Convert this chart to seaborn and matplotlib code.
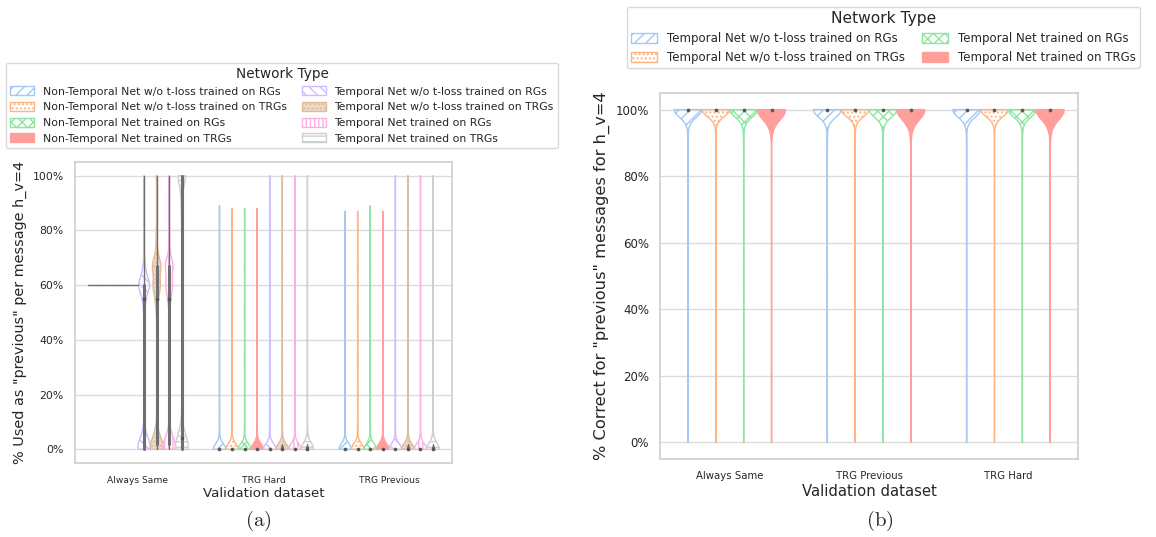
import numpy as np
import pandas as pd
import matplotlib
matplotlib.use("Agg")
import matplotlib.pyplot as plt
import seaborn as sns
from matplotlib.patches import Patch
from matplotlib.ticker import PercentFormatter
from matplotlib.collections import PolyCollection

sns.set_theme(style="whitegrid")
plt.rcParams["font.family"] = ["DejaVu Sans"]
plt.rcParams["mathtext.fontset"] = "cm"

# ---------------- Panel (a): messages used as "previous" ----------------
datasets_a = ["Always Same", "TRG Hard", "TRG Previous"]
networks_a = [
    "Non-Temporal Net w/o t-loss trained on RGs",
    "Non-Temporal Net w/o t-loss trained on TRGs",
    "Non-Temporal Net trained on RGs",
    "Non-Temporal Net trained on TRGs",
    "Temporal Net w/o t-loss trained on RGs",
    "Temporal Net w/o t-loss trained on TRGs",
    "Temporal Net trained on RGs",
    "Temporal Net trained on TRGs",
]

# value levels (%) and number of messages at each level, one row per network
levels_same = [0, 2, 4, 6, 8, 50, 55, 60, 65, 67, 70, 75, 80, 90, 100]
counts_same = [
    [0, 0, 0, 0, 0, 0, 0, 1000, 0, 0, 0, 0, 0, 0, 0],
    [0, 0, 0, 0, 0, 0, 0, 1000, 0, 0, 0, 0, 0, 0, 0],
    [0, 0, 0, 0, 0, 0, 0, 1000, 0, 0, 0, 0, 0, 0, 0],
    [0, 0, 0, 0, 0, 0, 0, 1000, 0, 0, 0, 0, 0, 0, 0],
    [1000, 450, 250, 120, 40, 60, 300, 1200, 300, 0, 60, 40, 30, 20, 60],
    [900, 400, 250, 120, 40, 50, 250, 700, 150, 700, 150, 100, 80, 40, 80],
    [950, 450, 250, 100, 30, 60, 250, 700, 100, 750, 100, 60, 40, 20, 60],
    [2000, 800, 400, 250, 150, 20, 0, 20, 0, 0, 20, 0, 60, 300, 1800],
]

levels_trg = [0, 1, 2, 3, 5, 8, 20, 33, 50, 67, 87, 88, 89, 100]
counts_hard = [
    [850, 60, 40, 25, 15, 20, 20, 20, 20, 20, 0, 0, 20, 0],
    [850, 60, 40, 25, 15, 20, 20, 20, 26, 20, 0, 20, 0, 0],
    [850, 60, 40, 25, 15, 20, 20, 20, 20, 20, 0, 20, 0, 0],
    [850, 60, 40, 25, 15, 20, 20, 20, 20, 20, 0, 20, 0, 0],
    [850, 70, 50, 30, 15, 20, 20, 20, 20, 20, 0, 0, 0, 16],
    [850, 80, 55, 35, 18, 20, 20, 20, 20, 20, 0, 0, 0, 16],
    [860, 60, 40, 25, 15, 20, 20, 20, 20, 20, 0, 0, 0, 16],
    [860, 60, 50, 40, 30, 20, 20, 20, 20, 20, 0, 0, 0, 28],
]
counts_prev = [
    [850, 60, 40, 25, 15, 20, 20, 20, 20, 20, 20, 0, 0, 0],
    [850, 60, 40, 25, 15, 20, 20, 26, 26, 20, 20, 0, 0, 0],
    [850, 60, 40, 25, 15, 20, 20, 20, 20, 20, 0, 0, 20, 0],
    [850, 60, 40, 25, 15, 20, 20, 26, 26, 20, 20, 0, 0, 0],
    [850, 70, 50, 30, 15, 20, 20, 20, 20, 20, 0, 0, 0, 16],
    [850, 80, 55, 35, 18, 20, 20, 20, 20, 20, 0, 0, 0, 16],
    [860, 60, 40, 25, 15, 20, 20, 20, 20, 20, 0, 0, 0, 16],
    [860, 60, 50, 40, 30, 20, 20, 20, 20, 20, 0, 0, 0, 28],
]

# ---------------- Panel (b): correct "previous" messages ----------------
datasets_b = ["Always Same", "TRG Previous", "TRG Hard"]
networks_b = [
    "Temporal Net w/o t-loss trained on RGs",
    "Temporal Net w/o t-loss trained on TRGs",
    "Temporal Net trained on RGs",
    "Temporal Net trained on TRGs",
]
levels_b = [0, 25, 50, 75, 90, 93, 95, 97, 98, 99, 100]
counts_b_same = [
    [5, 2, 3, 3, 5, 5, 12, 22, 28, 45, 870],
    [4, 2, 3, 3, 5, 5, 8, 18, 25, 40, 890],
    [5, 2, 3, 3, 6, 6, 10, 20, 25, 40, 880],
    [8, 4, 4, 4, 5, 10, 30, 45, 45, 50, 795],
]
counts_b_prev = [
    [5, 2, 3, 3, 5, 5, 12, 22, 28, 45, 870],
    [4, 2, 3, 3, 5, 5, 8, 18, 25, 40, 890],
    [5, 2, 3, 3, 6, 6, 10, 20, 25, 40, 880],
    [8, 4, 4, 4, 5, 10, 30, 45, 45, 50, 795],
]
counts_b_hard = [
    [5, 2, 3, 3, 5, 5, 12, 22, 28, 45, 870],
    [4, 2, 3, 3, 5, 5, 8, 18, 25, 40, 890],
    [5, 2, 3, 3, 6, 6, 10, 20, 25, 40, 880],
    [8, 4, 4, 4, 5, 10, 30, 45, 45, 50, 795],
]

# styling per network type
palette8 = sns.color_palette("pastel", 8)
hatches8 = ["///", "....", "xxx", "", "\\\\\\", "....", "||||", "---"]
filled8 = [False, False, False, True, False, True, False, False]
GRAY = "#555555"


def long_form(datasets, networks, level_sets, count_tables):
    frames = []
    for ds, levels, table in zip(datasets, level_sets, count_tables):
        for net, counts in zip(networks, table):
            vals = np.repeat(np.asarray(levels, dtype=float), counts)
            frames.append(pd.DataFrame({"dataset": ds, "network": net, "value": vals}))
    return pd.concat(frames, ignore_index=True)


df_a = long_form(datasets_a, networks_a,
                 [levels_same, levels_trg, levels_trg],
                 [counts_same, counts_hard, counts_prev])
df_b = long_form(datasets_b, networks_b,
                 [levels_b, levels_b, levels_b],
                 [counts_b_same, counts_b_prev, counts_b_hard])


def apply_style(artist, color, hatch, filled):
    """Hatched outline, or solid fill; hatched fills get light hatch lines."""
    artist.set_edgecolor(color)
    artist.set_hatch(hatch)
    if filled and hatch:
        if hasattr(artist, "set_hatchcolor"):
            artist.set_facecolor(color)
            artist.set_hatchcolor("white")
        else:
            light = tuple(0.55 * np.array(color) + 0.45)
            artist.set_facecolor(light)
    elif filled:
        artist.set_facecolor(color)
    else:
        artist.set_facecolor("none")


def style_violins(ax, palette, hatches, filled):
    for coll in ax.collections:
        if not isinstance(coll, PolyCollection):
            continue
        fc = coll.get_facecolor()
        if len(fc) == 0:
            continue
        rgb = np.array(fc[0][:3])
        idx = int(np.argmin([np.abs(rgb - np.array(c)).sum() for c in palette]))
        coll.set_linewidth(1.0)
        apply_style(coll, palette[idx], hatches[idx], filled[idx])
    for line in ax.lines:
        m = line.get_marker()
        if m not in (None, "None", "", " "):
            line.set_marker("o")
            line.set_markersize(2.2)
            line.set_markerfacecolor(GRAY)
            line.set_markeredgecolor(GRAY)
            line.set_zorder(5)


def legend_handles(palette, hatches, filled):
    hs = []
    for c, h, f in zip(palette, hatches, filled):
        p = Patch(linewidth=1.0)
        apply_style(p, c, h, f)
        if not f:
            p.set_facecolor("white")
        hs.append(p)
    return hs


def finish_axis(ax, ylabel, tick_fs, xtick_fs, xlabel_fs, ylabel_fs):
    ax.set_ylim(-5, 105)
    ax.set_yticks([0, 20, 40, 60, 80, 100])
    ax.yaxis.set_major_formatter(PercentFormatter(xmax=100, decimals=0))
    ax.set_xlabel("Validation dataset", fontsize=xlabel_fs, labelpad=2)
    ax.set_ylabel(ylabel, fontsize=ylabel_fs, labelpad=4)
    ax.tick_params(axis="y", labelsize=tick_fs, pad=2)
    ax.tick_params(axis="x", labelsize=xtick_fs, pad=3)
    for s in ax.spines.values():
        s.set_color("#d0d0d0")
    ax.grid(axis="y", color="#dcdcdc", linewidth=1.0)
    ax.grid(axis="x", visible=False)


fig = plt.figure(figsize=(11.56, 5.37), dpi=100)
ax_a = fig.add_axes([0.0649, 0.1378, 0.326, 0.5605])
ax_b = fig.add_axes([0.571, 0.1453, 0.3616, 0.6816])

sns.violinplot(data=df_a, x="dataset", y="value", hue="network",
               order=datasets_a, hue_order=networks_a, palette=palette8,
               saturation=1, cut=0, density_norm="width", bw_adjust=0.45,
               inner="box", inner_kws=dict(box_width=2.2, whis_width=1.0),
               linewidth=1.0, legend=False, ax=ax_a)
style_violins(ax_a, palette8, hatches8, filled8)
finish_axis(ax_a, '% Used as "previous" per message h_v=4', 7.8, 6.6, 9.6, 10.4)

pal4 = palette8[:4]
sns.violinplot(data=df_b, x="dataset", y="value", hue="network",
               order=datasets_b, hue_order=networks_b, palette=pal4,
               saturation=1, cut=0, density_norm="area", bw_adjust=1.0,
               inner="box", inner_kws=dict(box_width=2.2, whis_width=1.0),
               linewidth=1.0, legend=False, ax=ax_b)
style_violins(ax_b, pal4, hatches8[:4], filled8[:4])
finish_axis(ax_b, '% Correct for "previous" messages for h_v=4', 8.5, 7.3, 10.7, 11.7)

leg_a = fig.legend(handles=legend_handles(palette8, hatches8, filled8),
                   labels=networks_a, title="Network Type", ncol=2,
                   loc="lower left", mode="expand",
                   bbox_to_anchor=(6 / 1156, 1 - 148 / 537, 552 / 1156, 86 / 537),
                   fontsize=7.8, title_fontsize=9.8, frameon=True,
                   handlelength=2.2, handleheight=0.9, borderaxespad=0)
leg_b = fig.legend(handles=legend_handles(pal4, hatches8[:4], filled8[:4]),
                   labels=networks_b, title="Network Type", ncol=2,
                   loc="lower left",
                   bbox_to_anchor=(627 / 1156, 1 - 68 / 537),
                   fontsize=8.5, title_fontsize=11.2, frameon=True,
                   handlelength=2.2, handleheight=0.9, columnspacing=1.5,
                   borderpad=0.35, borderaxespad=0)
for leg in (leg_a, leg_b):
    leg.get_frame().set_edgecolor("#d0d0d0")

fig.text(258 / 1156, 1 - 521 / 537, r"$\mathrm{(a)}$", ha="center", va="center", fontsize=15)
fig.text(880 / 1156, 1 - 521 / 537, r"$\mathrm{(b)}$", ha="center", va="center", fontsize=15)

fig.savefig("out.png", dpi=100)
